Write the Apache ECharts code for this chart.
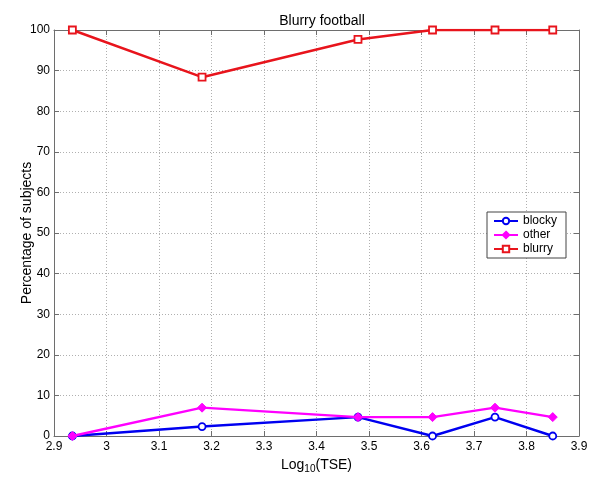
<!DOCTYPE html>
<html>
<head>
<meta charset="utf-8">
<script src="https://cdn.jsdelivr.net/npm/echarts@6/dist/echarts.min.js"></script>
<style>
  html, body { margin: 0; padding: 0; background: #fff; }
  #chart { width: 592px; height: 479px; }
</style>
</head>
<body>
<div id="chart"></div>
<script>
// Log10 of TSE at each measured level
const logTSE = [2.935, 3.182, 3.479, 3.621, 3.740, 3.850];
// Percentage of subjects choosing each description
const blocky = [0, 2.33, 4.65, 0, 4.65, 0];
const other = [0, 6.98, 4.65, 4.65, 6.98, 4.65];
const blurry = [100, 88.37, 97.67, 100, 100, 100];

const seriesNames = ['blocky', 'other', 'blurry'];
const FONT = 'Liberation Sans, Arial, sans-serif';

const pairs = ys => logTSE.map((x, i) => [x, ys[i]]);

const chart = echarts.init(document.getElementById('chart'), null, { renderer: 'canvas' });

const gridLine = { show: true, lineStyle: { color: '#b0b0b0', type: [1, 2], width: 1 } };
const boxLine = { show: true, onZero: false, lineStyle: { color: '#6e6e6e', width: 1 } };
const innerTick = { show: true, inside: true, length: 5, lineStyle: { color: '#6e6e6e' } };

chart.setOption({
  animation: false,
  backgroundColor: '#ffffff',
  title: {
    text: 'Blurry football',
    left: 317, top: 9,
    textAlign: 'center',
    textStyle: { fontFamily: FONT, fontSize: 14, fontWeight: 'normal', color: '#000' }
  },
  grid: { left: 54, right: 13, top: 30, bottom: 39 },
  legend: {
    orient: 'vertical',
    left: 487, top: 212,
    data: seriesNames,
    itemWidth: 24, itemHeight: 8, itemGap: 2,
    padding: [3, 9, 3, 6],
    borderColor: '#444', borderWidth: 1,
    backgroundColor: '#fff',
    textStyle: { fontFamily: FONT, fontSize: 12, color: '#000' }
  },
  xAxis: [{
    type: 'value', min: 2.9, max: 3.9, interval: 0.1,
    axisLine: boxLine, axisTick: innerTick, splitLine: gridLine,
    axisLabel: {
      fontFamily: FONT, fontSize: 12, color: '#000', margin: 5,
      formatter: v => String(+v.toFixed(1))
    },
    name: '{a|Log}{s|10}{a|(TSE)}',
    nameLocation: 'middle', nameGap: 21, nameMoveOverlap: false,
    nameTextStyle: {
      rich: {
        a: { fontFamily: FONT, fontSize: 14, color: '#000', lineHeight: 17 },
        s: { fontFamily: FONT, fontSize: 10, color: '#000', lineHeight: 4, verticalAlign: 'bottom' }
      }
    }
  }, {
    type: 'value', position: 'top', min: 2.9, max: 3.9, interval: 0.1,
    axisLine: boxLine, axisTick: innerTick, axisLabel: { show: false }, splitLine: { show: false }
  }],
  yAxis: [{
    type: 'value', min: 0, max: 100, interval: 10,
    axisLine: boxLine, axisTick: innerTick, splitLine: gridLine,
    axisLabel: { fontFamily: FONT, fontSize: 12, color: '#000', margin: 4 },
    name: 'Percentage of subjects',
    nameLocation: 'middle', nameGap: 20, nameMoveOverlap: false,
    nameTextStyle: { fontFamily: FONT, fontSize: 14, color: '#000' }
  }, {
    type: 'value', position: 'right', min: 0, max: 100, interval: 10,
    axisLine: boxLine, axisTick: innerTick, axisLabel: { show: false }, splitLine: { show: false }
  }],
  series: [{
    name: 'blocky', type: 'line', data: pairs(blocky),
    symbol: 'circle', symbolSize: 7, showAllSymbol: true,
    lineStyle: { color: '#0000f0', width: 2.4 },
    itemStyle: { color: '#ffffff', borderColor: '#0000f0', borderWidth: 1.8 },
    z: 3
  }, {
    name: 'other', type: 'line', data: pairs(other),
    symbol: 'diamond', symbolSize: 9, showAllSymbol: true,
    lineStyle: { color: '#ff00ff', width: 2.4 },
    itemStyle: { color: '#ff00ff', borderColor: '#ff00ff', borderWidth: 1 },
    z: 4
  }, {
    name: 'blurry', type: 'line', data: pairs(blurry),
    symbol: 'rect', symbolSize: 7, showAllSymbol: true,
    lineStyle: { color: '#e8141c', width: 2.4 },
    itemStyle: { color: '#ffffff', borderColor: '#e8141c', borderWidth: 1.8 },
    z: 3
  }]
});
</script>
</body>
</html>
